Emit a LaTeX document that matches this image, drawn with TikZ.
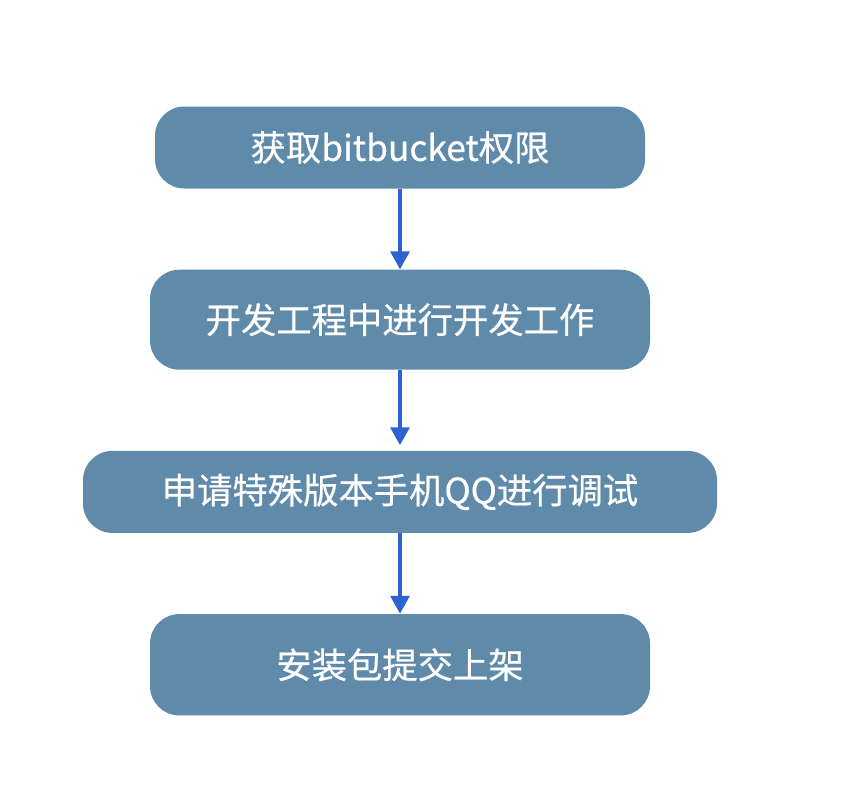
\documentclass[tikz,border=0pt]{standalone}
\usepackage{fontspec}
\newfontfamily\cjk[FakeBold=0.6]{Noto Sans CJK SC}
\usetikzlibrary{positioning,arrows.meta}
\definecolor{boxblue}{HTML}{5F8AA9}
\definecolor{arrowblue}{HTML}{2C63D1}
\tikzset{
        block/.style = {fill=boxblue, rectangle, rounded corners=22pt, minimum height=61.5pt, minimum width=367.5pt, text=white, font=\cjk\fontsize{26.5}{30}\selectfont},
        line/.style={draw=arrowblue, line width=3pt, -{Triangle[width=14pt,length=13.5pt]}}}

\begin{document}
\begin{tikzpicture}[x=0.75pt, y=0.75pt, node distance=60.5pt, align=center]
            \useasboundingbox (0,0) rectangle (856,-796);
            \node [block] (perm) at (400,-147.5) {获取bitbucket权限};
            \node [block, below=of perm, minimum width=375pt, minimum height=75pt] (dev) {开发工程中进行开发工作};
            \node [block, below=of dev, minimum width=475.5pt] (debug) {申请特殊版本手机QQ进行调试};
            \node [block, below=of debug, minimum width=375pt, minimum height=76pt] (submit) {安装包提交上架};

            \begin{scope}[line]
            \draw (perm) -- (dev);
            \draw[shorten >=4pt] (dev) -- (debug);
            \draw (debug) -- (submit);
            \end{scope}
    \end{tikzpicture}
\end{document}
